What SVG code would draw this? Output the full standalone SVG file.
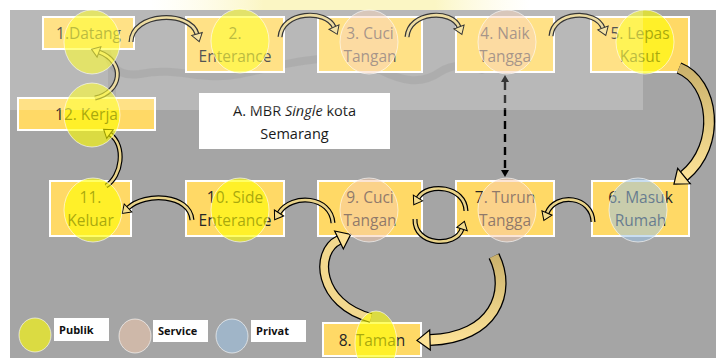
<svg xmlns="http://www.w3.org/2000/svg" width="716" height="358" viewBox="0 0 716 358">
  <style>
    .box { fill: #ffd966; stroke: #ffffff; stroke-width: 2; }
    .lbl { font-family: "Open Sans", "Liberation Sans", sans-serif; font-size: 15.5px; fill: #262626; text-anchor: middle; }
    .note { font-family: "Open Sans", "Liberation Sans", sans-serif; font-size: 14.5px; fill: #1a1a1a; text-anchor: middle; }
    .leg { font-family: "Open Sans", "Liberation Sans", sans-serif; font-size: 11px; font-weight: bold; fill: #111111; }
    .pub { fill: #ffff00; fill-opacity: 0.6; stroke: #ffffff; stroke-opacity: 0.6; stroke-width: 1; }
    .srv { fill: #f8cbad; fill-opacity: 0.5; stroke: #ffffff; stroke-opacity: 0.6; stroke-width: 1; }
    .prv { fill: #9dc3e6; fill-opacity: 0.55; stroke: #ffffff; stroke-opacity: 0.6; stroke-width: 1; }
    .bo { fill: none; stroke: #000000; stroke-width: 5; }
    .bi { fill: none; stroke: #e9d38a; stroke-width: 2.6; }
    .bo2 { fill: none; stroke: #000000; stroke-width: 12; }
    .bi2 { fill: none; stroke: url(#tan); stroke-width: 9.5; }
    .dash { fill: none; stroke: #000000; stroke-width: 2.4; stroke-dasharray: 8 5; }
  </style>
  <defs>
    <linearGradient id="tan" x1="0" y1="0" x2="0" y2="1">
      <stop offset="0" stop-color="#cbb26c"/>
      <stop offset="1" stop-color="#fbe196"/>
    </linearGradient>
    <linearGradient id="band" x1="0" y1="0" x2="1" y2="0">
      <stop offset="0" stop-color="#fffbe0" stop-opacity="0"/>
      <stop offset="0.3" stop-color="#fbf6c4"/>
      <stop offset="0.75" stop-color="#fbf6c4"/>
      <stop offset="1" stop-color="#fffbe0" stop-opacity="0"/>
    </linearGradient>
    <marker id="hs" viewBox="-2 -8 12 16" markerWidth="12" markerHeight="16" refX="0" refY="0" orient="auto" markerUnits="userSpaceOnUse">
      <path d="M0,-5.5 L8,0 L0,5.5 Z" fill="#f3dc8c" stroke="#000" stroke-width="1"/>
    </marker>
    <marker id="hb" viewBox="-2 -12 17 24" markerWidth="17" markerHeight="24" refX="0" refY="0" orient="auto" markerUnits="userSpaceOnUse">
      <path d="M0,-10 L13,0 L0,10 Z" fill="#fbe196" stroke="#000" stroke-width="1.2"/>
    </marker>
    <marker id="hd" viewBox="-1 -5 9 10" markerWidth="9" markerHeight="10" refX="0" refY="0" orient="auto-start-reverse" markerUnits="userSpaceOnUse">
      <path d="M0,-4 L7,0 L0,4 Z" fill="#000"/>
    </marker>
  </defs>

  <!-- page and panel background -->
  <rect x="0" y="0" width="716" height="358" fill="#ffffff"/>
  <rect x="150" y="0" width="380" height="10" fill="url(#band)"/>
  <rect x="10" y="10" width="706" height="348" fill="#a5a5a5"/>

  <!-- faint logo strokes behind the panel -->
  <g id="logo" fill="none" stroke="#6e6e6e" stroke-opacity="0.22" stroke-width="8" stroke-linecap="round">
    <path d="M104,40 C108,60 112,78 140,74 C180,66 200,82 240,74 C290,64 330,48 380,70 C400,80 420,86 440,72 C455,62 470,66 482,70"/>
    <path d="M112,70 L112,106"/>
  </g>

  <!-- nodes -->
  <g id="n1"><rect class="box" x="43" y="17" width="91" height="32"/><text class="lbl" x="88.5" y="39">1.Datang</text></g>
  <g id="n2"><rect class="box" x="186" y="17" width="98" height="55"/><text class="lbl" x="235" y="39">2.</text><text class="lbl" x="235" y="62">Enterance</text></g>
  <g id="n3"><rect class="box" x="318" y="17" width="104" height="55"/><text class="lbl" x="370" y="39">3. Cuci</text><text class="lbl" x="370" y="62">Tangan</text></g>
  <g id="n4"><rect class="box" x="456" y="17" width="98" height="55"/><text class="lbl" x="505" y="39">4. Naik</text><text class="lbl" x="505" y="62">Tangga</text></g>
  <g id="n5"><rect class="box" x="591" y="17" width="98" height="55"/><text class="lbl" x="640" y="39">5. Lepas</text><text class="lbl" x="640" y="62">Kasut</text></g>
  <g id="n12"><rect class="box" x="18" y="98" width="137" height="32"/><text class="lbl" x="86.5" y="120">12. Kerja</text></g>
  <g id="n11"><rect class="box" x="50" y="181" width="81" height="55"/><text class="lbl" x="90.5" y="203">11.</text><text class="lbl" x="90.5" y="226">Keluar</text></g>
  <g id="n10"><rect class="box" x="186" y="181" width="98" height="55"/><text class="lbl" x="235" y="203">10. Side</text><text class="lbl" x="235" y="226">Enterance</text></g>
  <g id="n9"><rect class="box" x="318" y="181" width="104" height="55"/><text class="lbl" x="370" y="203">9. Cuci</text><text class="lbl" x="370" y="226">Tangan</text></g>
  <g id="n7"><rect class="box" x="456" y="181" width="98" height="55"/><text class="lbl" x="505" y="203">7. Turun</text><text class="lbl" x="505" y="226">Tangga</text></g>
  <g id="n6"><rect class="box" x="592" y="181" width="97" height="55"/><text class="lbl" x="640.5" y="203">6. Masuk</text><text class="lbl" x="640.5" y="226">Rumah</text></g>
  <g id="n8"><rect class="box" x="323" y="323" width="98" height="33"/><text class="lbl" x="372" y="346">8. Taman</text></g>

  <g id="title">
    <rect x="199" y="93" width="191" height="56" fill="#ffffff"/>
    <text class="note" x="294.5" y="116">A. MBR <tspan font-style="italic">Single</tspan> kota</text>
    <text class="note" x="294.5" y="139">Semarang</text>
  </g>

  <!-- connectors -->
  <g id="connectors">
    <path class="bo" d="M131,42 C132,12 190,10 197,34"/><path class="bi" d="M131,42 C132,12 190,10 197,34" marker-end="url(#hs)"/>
    <path class="bo" d="M280,37 C282,11 326,9 334,27"/><path class="bi" d="M280,37 C282,11 326,9 334,27" marker-end="url(#hs)"/>
    <path class="bo" d="M407,37 C409,11 452,9 459,27"/><path class="bi" d="M407,37 C409,11 452,9 459,27" marker-end="url(#hs)"/>
    <path class="bo" d="M551,36 C553,11 596,9 603,28"/><path class="bi" d="M551,36 C553,11 596,9 603,28" marker-end="url(#hs)"/>
    <path class="bo2" d="M679,68 C714,82 722,145 684,176"/><path class="bi2" d="M679,68 C714,82 722,145 684,176" marker-end="url(#hb)"/>
    <path class="bo" d="M593,222 C592,196 556,192 547,213"/><path class="bi" d="M593,222 C592,196 556,192 547,213" marker-end="url(#hs)"/>
    <path class="bo" d="M466,211 C465,186 428,182 418,198"/><path class="bi" d="M466,211 C465,186 428,182 418,198" marker-end="url(#hs)"/>
    <path class="bo" d="M415,219 C414,246 456,248 462,229"/><path class="bi" d="M415,219 C414,246 456,248 462,229" marker-end="url(#hs)"/>
    <path class="bo2" d="M494,256 C512,292 494,338 430,340"/><path class="bi2" d="M494,256 C512,292 494,338 430,340" marker-end="url(#hb)"/>
    <path class="bo2" d="M371,318 C318,304 314,252 339,240" style="stroke-width:10"/><path class="bi2" d="M371,318 C318,304 314,252 339,240" style="stroke:#f2d88e;stroke-width:7.5" marker-end="url(#hb)"/>
    <path class="bo" d="M333,223 C331,196 292,193 279,213"/><path class="bi" d="M333,223 C331,196 292,193 279,213" marker-end="url(#hs)"/>
    <path class="bo" d="M192,220 C190,194 145,192 128,208"/><path class="bi" d="M192,220 C190,194 145,192 128,208" marker-end="url(#hs)"/>
    <path class="bo" d="M106,186 C122,176 126,146 110,134"/><path class="bi" d="M106,186 C122,176 126,146 110,134" marker-end="url(#hs)"/>
    <path class="bo" d="M95,98 C122,92 126,62 99,52"/><path class="bi" d="M95,98 C122,92 126,62 99,52" marker-end="url(#hs)"/>
    <path class="dash" d="M505,82 L505,170" marker-start="url(#hd)" marker-end="url(#hd)"/>
  </g>

  <!-- zone markers -->
  <g id="zones">
    <ellipse class="pub" cx="92" cy="42" rx="28" ry="32"/>
    <ellipse class="pub" cx="240" cy="41" rx="29" ry="32"/>
    <ellipse class="srv" cx="369" cy="42" rx="29" ry="32"/>
    <ellipse class="srv" cx="507" cy="42" rx="29" ry="32"/>
    <ellipse class="pub" cx="645" cy="42" rx="29" ry="32"/>
    <ellipse class="pub" cx="92" cy="115" rx="28" ry="32"/>
    <ellipse class="pub" cx="93" cy="210" rx="29" ry="32"/>
    <ellipse class="pub" cx="240" cy="210" rx="29" ry="32"/>
    <ellipse class="srv" cx="369" cy="210" rx="29" ry="32"/>
    <ellipse class="srv" cx="507" cy="210" rx="29" ry="32"/>
    <ellipse class="prv" cx="638" cy="210" rx="29" ry="32"/>
    <ellipse class="pub" cx="376" cy="343" rx="21" ry="32"/>
  </g>

  <!-- light wash over the upper band -->
  <rect x="10" y="10" width="633" height="100" fill="#ffffff" fill-opacity="0.21"/>

  <!-- legend -->
  <g id="legend">
    <ellipse class="pub" cx="35" cy="335" rx="16" ry="17"/>
    <rect x="54" y="318" width="55" height="23" fill="#ffffff"/>
    <text class="leg" x="59" y="334">Publik</text>
    <ellipse class="srv" cx="135" cy="336" rx="16" ry="17"/>
    <rect x="153" y="320" width="55" height="22" fill="#ffffff"/>
    <text class="leg" x="158" y="335">Service</text>
    <ellipse class="prv" cx="232" cy="336" rx="16" ry="17"/>
    <rect x="251" y="320" width="55" height="22" fill="#ffffff"/>
    <text class="leg" x="256" y="335">Privat</text>
  </g>
</svg>
